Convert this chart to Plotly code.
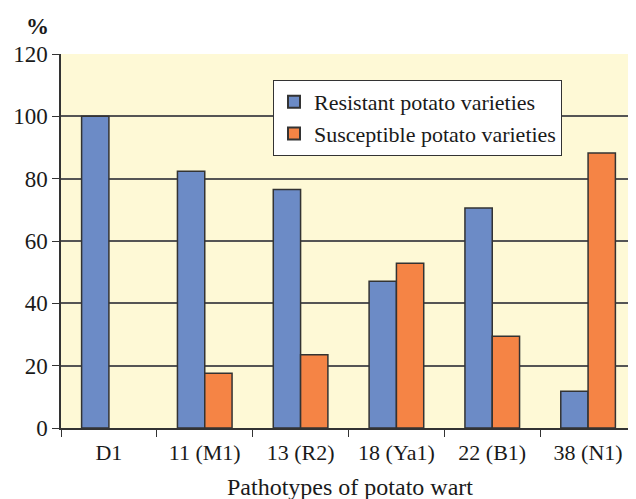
import plotly.graph_objects as go

categories = ["D1", "11 (M1)", "13 (R2)", "18 (Ya1)", "22 (B1)", "38 (N1)"]
resistant = [100, 82.4, 76.5, 47.1, 70.6, 11.8]
susceptible = [None, 17.6, 23.5, 52.9, 29.4, 88.2]
y_ticks = [0, 20, 40, 60, 80, 100, 120]

FONT = "Liberation Serif"
OFF = 8  # page body margin
W, H = 636 - OFF, 499 - OFF
L, R, T, B = 61 - OFF, 0, 54 - OFF, 71
PW, PH = W - L - R, H - T - B

fig = go.Figure()
fig.add_trace(go.Bar(
    x=categories, y=resistant, name="Resistant potato varieties",
    marker=dict(color="#6C8BC6", line=dict(color="#333333", width=1.5)),
))
fig.add_trace(go.Bar(
    x=categories, y=susceptible, name="Susceptible potato varieties",
    marker=dict(color="#F58445", line=dict(color="#333333", width=1.5)),
))

fig.update_layout(
    width=W, height=H,
    margin=dict(l=L, r=R, t=T, b=B, autoexpand=False),
    barmode="group", bargap=0.43, bargroupgap=0,
    paper_bgcolor="white", plot_bgcolor="#FEF9D6",
    font=dict(family=FONT, color="#1a1a1a", size=20),
    showlegend=True,
    legend=dict(
        x=(273 - OFF - L) / PW, y=(H - B - (80 - OFF)) / PH,
        xanchor="left", yanchor="top",
        bgcolor="white", bordercolor="#333333", borderwidth=1,
        font=dict(family=FONT, size=22, color="#1a1a1a"),
        itemsizing="constant", tracegroupgap=0,
    ),
    xaxis=dict(
        automargin=False,
        showline=True, linecolor="#333333", linewidth=1.5,
        ticks="outside", tickson="boundaries", ticklen=7, tickcolor="#333333",
        tickfont=dict(family=FONT, size=22),
        ticklabelstandoff=4,
    ),
    yaxis=dict(
        automargin=False,
        range=[0, 120], tickvals=y_ticks,
        showline=True, linecolor="#333333", linewidth=1.5,
        ticks="outside", ticklen=7, tickcolor="#333333",
        showgrid=True, gridcolor="#555555", gridwidth=1.5,
        zeroline=False,
        tickfont=dict(family=FONT, size=23),
    ),
    annotations=[
        dict(
            text="<b>%</b>", xref="paper", yref="paper",
            x=(24 - OFF - L) / PW, y=1 + (T - (12 - OFF)) / PH,
            xanchor="left", yanchor="top", showarrow=False,
            font=dict(family=FONT, size=23, color="#1a1a1a"),
        ),
        dict(
            text="Pathotypes of potato wart", xref="paper", yref="paper",
            x=(350 - OFF - L) / PW, y=-((487 - OFF) - (H - B)) / PH,
            xanchor="center", yanchor="middle", showarrow=False,
            font=dict(family=FONT, size=24, color="#1a1a1a"),
        ),
    ],
)

fig.write_html("out.html")
